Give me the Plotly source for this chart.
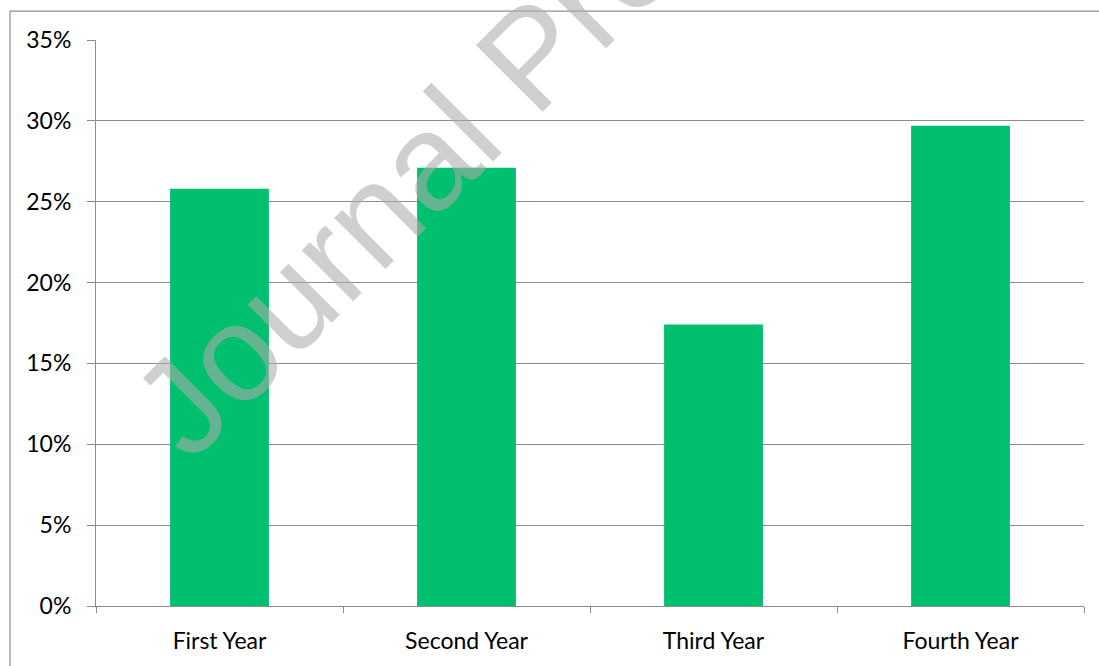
import plotly.graph_objects as go

categories = ["First Year", "Second Year", "Third Year", "Fourth Year"]
values = [0.258, 0.271, 0.174, 0.297]
y_ticks = [0, 0.05, 0.10, 0.15, 0.20, 0.25, 0.30, 0.35]
y_tick_labels = ["0%", "5%", "10%", "15%", "20%", "25%", "30%", "35%"]
watermark_text = "Journal Pre-proof"

W, H = 1099, 666
ML, MR, MT, MB = 96, 15, 40, 58
PW, PH = W - ML - MR, H - MT - MB


def px_x(x):
    return (x - ML) / PW


def px_y(y):
    return (H - MB - y) / PH


grid = "#8c8c8c"
font_main = dict(family="Lato, Carlito, Calibri, sans-serif", size=23, color="#000000")

fig = go.Figure()
fig.add_trace(go.Bar(
    x=categories, y=values, width=0.4,
    marker=dict(color="#00BF6F", line=dict(width=0)),
))

fig.update_layout(
    width=W, height=H,
    margin=dict(l=ML, r=MR, t=MT, b=MB),
    paper_bgcolor="white", plot_bgcolor="white",
    showlegend=False,
    font=font_main,
    bargap=0.6,
)
fig.update_xaxes(
    range=[-0.5, 3.5], tickson="boundaries", ticks="outside", ticklen=6,
    tickcolor=grid, showline=True, linecolor=grid, linewidth=1,
    showgrid=False, ticklabelstandoff=14, tickfont=font_main,
)
fig.update_yaxes(
    range=[0, 0.35], tickvals=y_ticks, ticktext=y_tick_labels,
    ticks="outside", ticklen=8, tickcolor=grid,
    showline=True, linecolor=grid, linewidth=1,
    showgrid=True, gridcolor=grid, gridwidth=1, zeroline=False,
    ticklabelstandoff=11, tickfont=font_main,
)

# outer frame (cropped on the right and bottom)
fig.add_shape(type="line", xref="paper", yref="paper",
              x0=px_x(10), x1=px_x(1200), y0=px_y(11), y1=px_y(11),
              line=dict(color="#8f8f8f", width=1.2))
fig.add_shape(type="line", xref="paper", yref="paper",
              x0=px_x(10), x1=px_x(10), y0=px_y(11), y1=px_y(800),
              line=dict(color="#8f8f8f", width=1.2))

# watermark
fig.add_annotation(
    text=watermark_text, xref="paper", yref="paper",
    x=px_x(531), y=px_y(57), xanchor="center", yanchor="middle",
    showarrow=False, textangle=-45,
    font=dict(family="Liberation Sans, Arial, sans-serif", size=137,
              color="rgba(173,173,173,0.58)"),
)

fig.write_html("out.html")
